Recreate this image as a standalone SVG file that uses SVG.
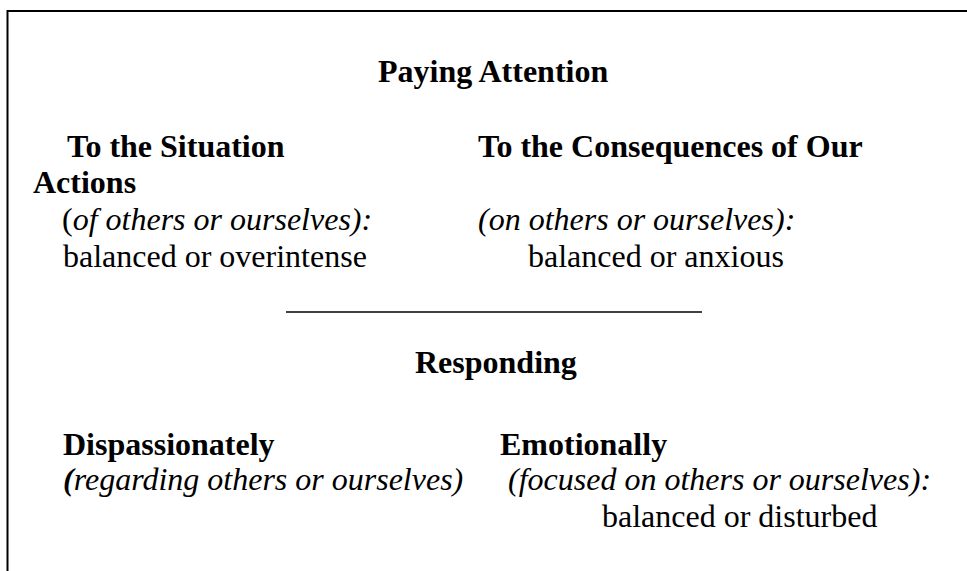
<svg xmlns="http://www.w3.org/2000/svg" width="967" height="571" viewBox="0 0 967 571">
  <style>
    text { font-family: "Liberation Serif", "Times New Roman", serif; font-size: 32px; fill: #000; }
    .b { font-weight: bold; }
    .i { font-style: italic; }
    .frame { fill: none; stroke: #000; stroke-width: 2; }
  </style>
  <rect width="967" height="571" fill="#fff"/>
  <!-- open frame: left and top edges -->
  <path class="frame" d="M7.5 571 V11 H967"/>

  <g id="attention">
    <text class="b" x="378" y="82">Paying Attention</text>
  </g>

  <g id="situation">
    <text class="b" x="67" y="157">To the Situation</text>
    <text class="b" x="33" y="193">Actions</text>
    <text x="62" y="230">(<tspan class="i">of others or ourselves):</tspan></text>
    <text x="63" y="267">balanced or overintense</text>
  </g>

  <g id="consequences">
    <text class="b" x="478" y="157">To the Consequences of Our</text>
    <text class="i" x="478" y="230">(on others or ourselves):</text>
    <text x="528" y="267">balanced or anxious</text>
  </g>

  <g id="divider">
    <line x1="286" y1="312" x2="702" y2="312" stroke="#000" stroke-width="1.5"/>
  </g>

  <g id="responding">
    <text class="b" x="415" y="373">Responding</text>
  </g>

  <g id="dispassionately">
    <text class="b" x="63" y="455">Dispassionately</text>
    <text x="63" y="490"><tspan class="b i">(</tspan><tspan class="i">regarding others or ourselves)</tspan></text>
  </g>

  <g id="emotionally">
    <text class="b" x="500" y="455">Emotionally</text>
    <text class="i" x="508" y="490">(focused on others or ourselves):</text>
    <text x="602" y="527">balanced or disturbed</text>
  </g>
</svg>
